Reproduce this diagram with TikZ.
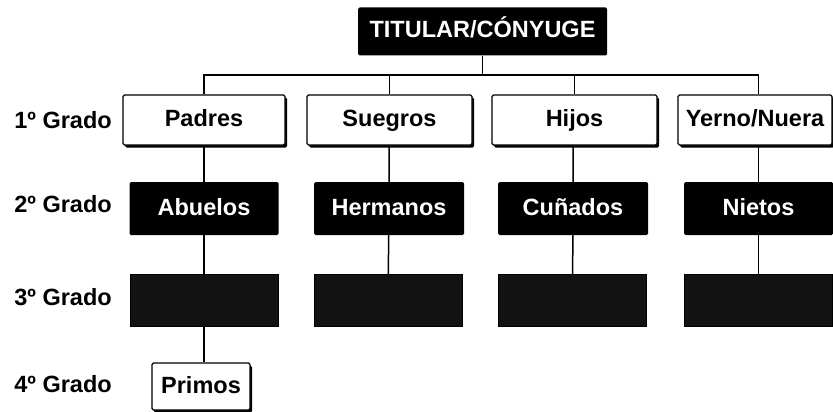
\documentclass[tikz,border=0pt]{standalone}
\usepackage{fontspec}
\setmainfont{Liberation Sans}
\usetikzlibrary{positioning,shadows}

\tikzset{
  blanco/.style={draw, line width=1.4pt, fill=white, rounded corners=1.5pt, minimum height=50pt, inner sep=0pt,
    text height=17pt, text depth=4pt,
    drop shadow={shadow xshift=2pt, shadow yshift=-2.5pt, fill=black, opacity=1}},
  negro/.style={fill=black, text=white, rounded corners=1.5pt, minimum height=53pt, inner sep=0pt,
    text height=17pt, text depth=4pt},
  oscuro/.style={fill=black!93, draw=black, minimum height=52pt, minimum width=148pt, inner sep=0pt},
  grado/.style={anchor=east, inner sep=0pt},
  linea/.style={line width=1.5pt},
}

\begin{document}
\begin{tikzpicture}[x=1pt, y=-1pt, font=\fontsize{23.5}{26}\selectfont\bfseries]
    \useasboundingbox (0,0) rectangle (833,412);

    % Titular
    \node[negro, minimum width=249pt, minimum height=48pt] (tit) at (482.5,31.5) {TITULAR/CÓNYUGE};
    \coordinate (bus) at (482.5,75);

    % Grados
    \foreach \g/\y in {1/120,2/204,3/297,4/384} {
        \node[grado] (g\g) at (112,\y) {\g º Grado};
    }

    % 1º Grado
    \node[blanco, minimum width=162pt] (padres) at (204,120) {Padres};
    \node[blanco, minimum width=165pt] (suegros) at (389.5,120) {Suegros};
    \node[blanco, minimum width=165pt] (hijos) at (574.5,120) {Hijos};
    \node[blanco, minimum width=154pt] (yerno) at (755,120) {Yerno/Nuera};

    % 2º Grado
    \node[negro, minimum width=149pt] (abuelos) at (204,208.5) {Abuelos};
    \node[negro, minimum width=150pt] (hermanos) at (389,208.5) {Hermanos};
    \node[negro, minimum width=150pt] (cunados) at (573,208.5) {Cuñados};
    \node[negro, minimum width=149pt] (nietos) at (758.5,208.5) {Nietos};

    % 3º Grado
    \node[oscuro] (t1) at (204,300) {};
    \node[oscuro] (t2) at (388,300) {};
    \node[oscuro] (t3) at (572.5,300) {};
    \node[oscuro] (t4) at (758.5,300) {};

    % 4º Grado
    \node[blanco, minimum width=98pt, minimum height=47pt, drop shadow={opacity=0}] (primos) at (201,386.5) {Primos};

    % Lineas
    \draw[linea] (tit) -- (bus);
    \draw[linea] (padres.north) |- (bus) -| (yerno.north -| nietos.north);
    \draw[linea] (suegros.north |- bus) -- (suegros.north);
    \draw[linea] (hijos.north |- bus) -- (hijos.north);
    \draw[linea] (padres) -- (abuelos) -- (t1) -- (primos.north -| t1);
    \draw[linea] (suegros.south -| hermanos) -- (hermanos) -- (t2);
    \draw[linea] (hijos.south -| cunados) -- (cunados) -- (t3);
    \draw[linea] (yerno.south -| nietos) -- (nietos) -- (t4);
\end{tikzpicture}
\end{document}
